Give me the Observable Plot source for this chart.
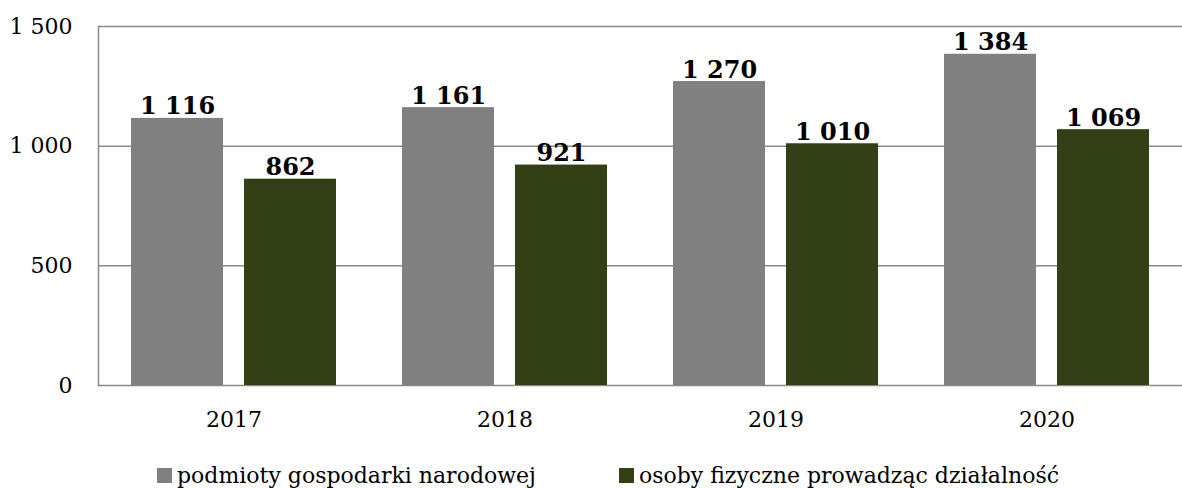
<!DOCTYPE html>
<html><head><meta charset="utf-8">
<script src="https://cdn.jsdelivr.net/npm/d3@7"></script>
<script src="https://cdn.jsdelivr.net/npm/@observablehq/plot@0.6"></script>
<style>
body{margin:0;background:#fff;font-family:"DejaVu Serif",serif;}
#legend{display:flex;justify-content:flex-start;align-items:center;gap:83px;height:43px;padding-top:18px;padding-left:157px;box-sizing:border-box;font-size:22px;color:#000;line-height:1;white-space:nowrap}
#legend .item{display:flex;align-items:center;gap:5px}
#legend .sw{width:15px;height:15px;display:inline-block}
</style>
</head><body><div id="chart"></div><div id="legend"></div><script>
const years = ["2017", "2018", "2019", "2020"];
const seriesNames = ["podmioty gospodarki narodowej", "osoby fizyczne prowadząc działalność"];
const podmioty = [1116, 1161, 1270, 1384];
const osoby = [862, 921, 1010, 1069];
const colors = ["#808080", "#333f15"];
const yTicks = [0, 500, 1000, 1500];

const fmt = d3.formatLocale({thousands: "\u00a0", grouping: [3], decimal: ",", currency: ["", ""]}).format(",d");

const data = years.flatMap((yr, i) => [
  {year: yr, series: seriesNames[0], value: podmioty[i]},
  {year: yr, series: seriesNames[1], value: osoby[i]}
]);

const chart = Plot.plot({
  width: 1182, height: 445,
  marginLeft: 98, marginRight: 0, marginTop: 26, marginBottom: 60,
  style: {fontFamily: "'DejaVu Serif', serif", fontSize: "22px", color: "#000", background: "#fff"},
  fx: {domain: years, padding: 0, label: null, axis: "bottom", tickSize: 0, tickPadding: 26},
  x: {domain: seriesNames, paddingInner: 0.186, paddingOuter: 0.29, axis: null},
  y: {domain: [0, 1500], ticks: yTicks, tickFormat: fmt, label: null, tickSize: 0, tickPadding: 26},
  color: {domain: seriesNames, range: colors},
  marks: [
    Plot.ruleY(yTicks, {stroke: "#898989", strokeWidth: 1.5}),
    Plot.frame({anchor: "left", stroke: "#898989", strokeWidth: 1.5, fx: () => years[0]}),
    Plot.barY(data, {fx: "year", x: "series", y: "value", fill: "series"}),
    Plot.text(data, {fx: "year", x: "series", y: "value", text: d => fmt(d.value), lineAnchor: "bottom", dy: -4, fontWeight: "bold", fontSize: 24, fill: "#000"})
  ]
});
document.getElementById("chart").appendChild(chart);

const legend = document.getElementById("legend");
seriesNames.forEach((name, i) => {
  const item = document.createElement("div");
  item.className = "item";
  const sw = document.createElement("span");
  sw.className = "sw";
  sw.style.background = colors[i];
  const t = document.createElement("span");
  t.textContent = name;
  item.appendChild(sw);
  item.appendChild(t);
  legend.appendChild(item);
});
</script></body></html>
